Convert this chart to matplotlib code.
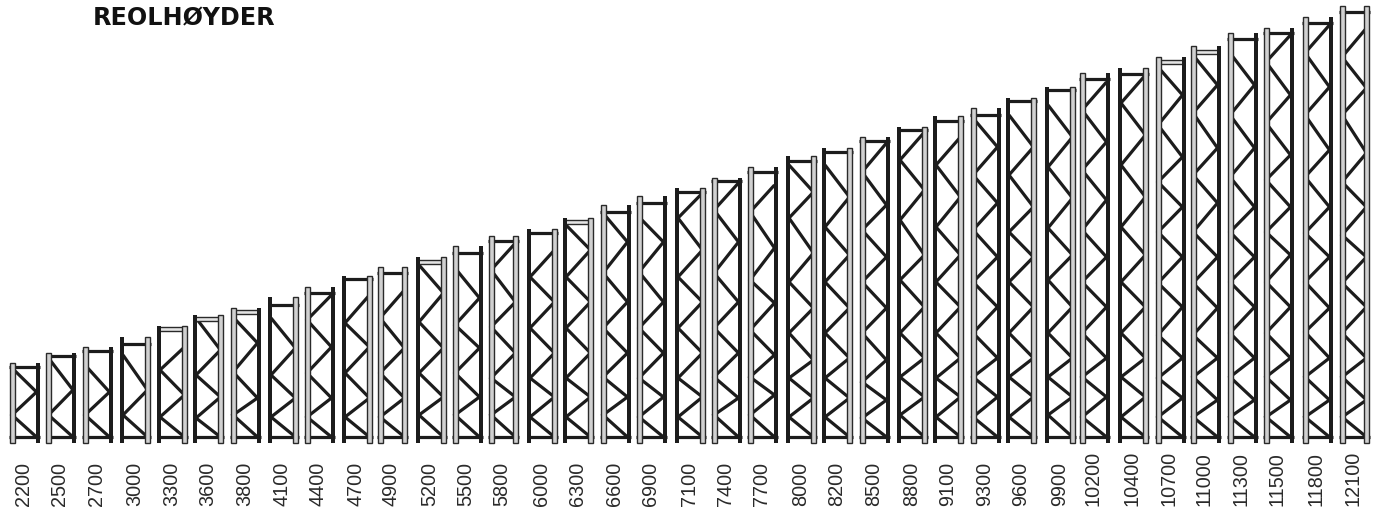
import matplotlib
matplotlib.use("Agg")
import matplotlib.pyplot as plt
from matplotlib.patches import Rectangle

labels = [2200, 2500, 2700, 3000, 3300, 3600, 3800, 4100, 4400, 4700, 4900, 5200, 5500,
          5800, 6000, 6300, 6600, 6900, 7100, 7400, 7700, 8000, 8200, 8500, 8800, 9100,
          9300, 9600, 9900, 10200, 10400, 10700, 11000, 11300, 11500, 11800, 12100]

# everything below is in drawing units
frame_left = [9, 45.5, 82, 120, 157, 193, 230, 268, 304, 342, 377, 416, 452, 488, 527,
              563, 600, 636, 675, 711, 747, 786, 822, 859, 897, 933, 970, 1006, 1045,
              1079, 1118, 1155, 1190, 1227, 1263, 1302, 1339]

frame_top = [79, 89, 95, 105, 116, 127, 134, 145, 155, 166, 175, 185, 196, 206, 213, 224,
             237, 246, 254, 264, 275, 286, 294, 305, 315, 326, 334, 344, 355, 369, 374,
             385, 396, 409, 414, 425, 436]

bar_drop = [4, 3, 4, 7, 3, 4, 4, 8, 6, 3, 6, 5, 7, 5, 4, 4, 7, 7, 4, 3, 5, 5, 4, 4, 3, 5,
            7, 3, 3, 6, 6, 5, 6, 6, 5, 6, 6]

# which upright is the open one
open_side = ["L", "L", "L", "R", "R", "R", "L", "R", "L", "R", "B", "R", "L", "B", "R",
             "R", "L", "L", "R", "L", "L", "R", "R", "L", "R", "R", "L", "R", "R", "L",
             "R", "L", "L", "L", "L", "L", "B"]

double_bar = [3300, 3600, 3800, 5200, 6300, 10700, 11000]

# brace nodes from the floor up, first one on the right, then zigzag
braces = [
    [5, 27, 50, 74],
    [5, 27, 52, 84],
    [5, 27, 50, 77],
    [5, 27, 52, 87],
    [5, 25, 47, 72, 95],
    [5, 24, 45, 67, 92, 124],
    [5, 27, 44, 70, 99, 125],
    [5, 25, 44, 67, 94, 124],
    [5, 25, 44, 69, 95, 122, 147],
    [5, 25, 44, 69, 95, 119, 147],
    [5, 25, 44, 69, 94, 124, 152],
    [5, 27, 45, 69, 94, 120, 149, 177],
    [5, 27, 45, 69, 94, 117, 144, 174],
    [5, 27, 45, 64, 89, 115, 140, 172, 199],
    [5, 25, 45, 64, 89, 114, 140, 165, 192],
    [5, 25, 45, 64, 89, 114, 140, 165, 192, 217],
    [5, 27, 45, 65, 89, 114, 140, 169, 200, 229],
    [5, 25, 45, 64, 89, 114, 140, 170, 200, 225],
    [5, 25, 45, 64, 89, 114, 140, 165, 192, 224, 249],
    [5, 27, 44, 65, 89, 114, 140, 169, 200, 232, 259],
    [5, 27, 47, 65, 87, 112, 139, 162, 194, 230, 257],
    [5, 25, 44, 64, 82, 109, 134, 160, 189, 224, 250, 277],
    [5, 25, 44, 64, 84, 109, 134, 160, 187, 215, 245, 277],
    [5, 24, 42, 60, 82, 109, 134, 160, 185, 212, 237, 270, 299],
    [5, 27, 45, 65, 84, 109, 135, 162, 187, 222, 252, 282, 310],
    [5, 25, 45, 64, 84, 109, 135, 160, 187, 215, 245, 277, 305],
    [5, 25, 45, 65, 84, 109, 135, 160, 185, 212, 239, 267, 295, 324],
    [5, 25, 45, 65, 84, 109, 135, 160, 185, 210, 235, 267, 295, 327],
    [5, 27, 45, 65, 84, 109, 135, 162, 187, 214, 244, 275, 305, 337],
    [5, 25, 45, 65, 84, 109, 135, 160, 185, 212, 242, 272, 300, 332, 360],
    [5, 25, 45, 65, 84, 109, 135, 160, 187, 215, 245, 277, 307, 339, 367],
    [5, 25, 44, 64, 84, 107, 135, 159, 185, 210, 235, 260, 285, 317, 347, 375],
    [5, 25, 42, 65, 84, 107, 134, 159, 185, 210, 239, 267, 294, 329, 357, 387],
    [5, 25, 42, 65, 84, 109, 135, 160, 185, 210, 235, 265, 294, 327, 357, 389],
    [5, 25, 42, 65, 84, 109, 135, 160, 187, 210, 235, 262, 287, 319, 347, 380, 407],
    [5, 25, 42, 65, 84, 110, 134, 160, 185, 209, 235, 265, 292, 327, 355, 389, 417],
    [5, 25, 42, 65, 84, 109, 135, 159, 185, 207, 235, 260, 289, 327, 354, 385, 414],
]

dark = "#1c1c1c"
fill = "#d0d0d0"
width = 30.5


def upright(ax, x, w, top, is_open):
    if is_open:
        ax.add_patch(Rectangle((x, -1), w, top + 1, fc=fill, ec="#2a2a2a", lw=1.0, zorder=3))
    else:
        ax.add_patch(Rectangle((x, -1), w, top + 1, fc=dark, ec="none", zorder=3))


fig = plt.figure(figsize=(13.78, 5.08), dpi=100)
ax = fig.add_axes([0, 0, 1, 1])
ax.set_xlim(0, 1378)
ax.set_ylim(-66, 442)
ax.axis("off")

for i, lab in enumerate(labels):
    left = frame_left[i]
    right = left + width
    top = frame_top[i]
    side = open_side[i]

    # zigzag first so the uprights sit on top of it
    xs = [right - 3 if n % 2 == 0 else left + 3 for n in range(len(braces[i]))]
    ax.plot(xs, braces[i], color=dark, lw=2.3, solid_capstyle="butt", solid_joinstyle="miter", zorder=2)

    # floor rail
    ax.plot([left, right], [5, 5], color=dark, lw=2.3, solid_capstyle="butt", zorder=2)

    # top rail
    bar_y = top - bar_drop[i]
    if lab in double_bar:
        ax.add_patch(Rectangle((left + 2, bar_y - 2), width - 4, 4, fc="#e4e4e4", ec="#2a2a2a", lw=1.0, zorder=2))
    else:
        ax.plot([left, right], [bar_y, bar_y], color=dark, lw=2.3, solid_capstyle="butt", zorder=2)

    left_open = side in ("L", "B")
    right_open = side in ("R", "B")
    upright(ax, left + 0.5 if left_open else left, 5 if left_open else 3.6, top, left_open)
    upright(ax, right - 5.5 if right_open else right - 3.6, 5 if right_open else 3.6, top, right_open)

    ax.text(left + width / 2 - 1, -64, str(lab), rotation=90, ha="center", va="bottom",
            fontsize=14.3, family="Liberation Sans", color="#2a2a2a")

ax.text(93, 417, "REOLHØYDER", fontsize=17.2, fontweight="bold", family="DejaVu Sans",
        color="#111111", ha="left", va="baseline")

fig.savefig("out.png", dpi=100)
